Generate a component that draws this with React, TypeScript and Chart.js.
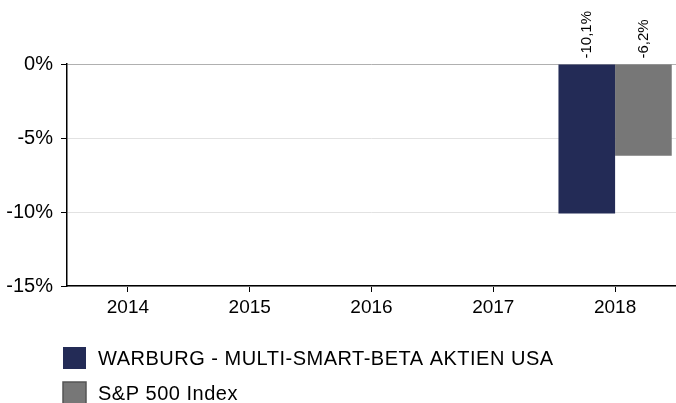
import React, { useEffect, useRef } from "react";
import { Chart, registerables } from "chart.js";

Chart.register(...registerables);

const categories = ["2014", "2015", "2016", "2017", "2018"];
const warburgValues = [null, null, null, null, -10.1];
const sp500Values = [null, null, null, null, -6.2];
const seriesNames = ["WARBURG - MULTI-SMART-BETA AKTIEN USA", "S&P 500 Index"];
const seriesColors = ["#232b56", "#777777"];
const yMin = -15;
const yMax = 0;
const yStep = 5;

const FONT = "'Liberation Sans', Arial, sans-serif";

const fmt = (v: number) => v.toFixed(1).replace(".", ",") + "%";

const labelPlugin = {
  id: "barLabels",
  afterDatasetsDraw(chart: any) {
    const ctx = chart.ctx;
    ctx.save();
    ctx.font = `15px ${FONT}`;
    ctx.fillStyle = "#000";
    ctx.textAlign = "left";
    ctx.textBaseline = "middle";
    chart.data.datasets.forEach((ds: any, di: number) => {
      const meta = chart.getDatasetMeta(di);
      meta.data.forEach((el: any, i: number) => {
        const v = ds.data[i];
        if (v === null || v === undefined) return;
        const top = Math.min(el.y, el.base);
        ctx.save();
        ctx.translate(el.x, top - 6);
        ctx.rotate(-Math.PI / 2);
        ctx.fillText(fmt(v), 0, 0);
        ctx.restore();
      });
    });
    ctx.restore();
  },
};

const legendPlugin = {
  id: "customLegend",
  afterDraw(chart: any) {
    const ctx = chart.ctx;
    ctx.save();
    const rows = [
      { y: 347, h: 22 },
      { y: 382, h: 22 },
    ];
    seriesNames.forEach((name, i) => {
      const r = rows[i];
      ctx.fillStyle = seriesColors[i];
      ctx.fillRect(63, r.y, 23, r.h);
      if (i === 1) {
        ctx.strokeStyle = "#555555";
        ctx.lineWidth = 1.5;
        ctx.strokeRect(63, r.y, 23, r.h);
      }
      ctx.fillStyle = "#000";
      ctx.font = `20px ${FONT}`;
      try {
        (ctx as any).letterSpacing = "0.5px";
      } catch (e) {}
      ctx.textAlign = "left";
      ctx.textBaseline = "middle";
      ctx.fillText(name, 98, r.y + r.h / 2 + 1);
    });
    ctx.restore();
  },
};

export default function App() {
  const ref = useRef<HTMLCanvasElement | null>(null);
  useEffect(() => {
    if (!ref.current) return;
    const chart = new Chart(ref.current, {
      type: "bar",
      data: {
        labels: categories,
        datasets: [
          {
            label: seriesNames[0],
            data: warburgValues,
            backgroundColor: seriesColors[0],
            borderWidth: 0,
          },
          {
            label: seriesNames[1],
            data: sp500Values,
            backgroundColor: seriesColors[1],
            borderWidth: 0,
          },
        ],
      },
      options: {
        responsive: false,
        maintainAspectRatio: false,
        animation: false,
        layout: { padding: { top: 64, right: 0, bottom: 77, left: 0 } },
        plugins: {
          legend: { display: false },
          tooltip: { enabled: false },
        },
        datasets: {
          bar: { categoryPercentage: 0.93, barPercentage: 1 },
        },
        scales: {
          x: {
            offset: true,
            grid: {
              offset: false,
              drawOnChartArea: false,
              drawTicks: true,
              tickLength: 6,
              tickColor: "#000",
            },
            border: { display: true, color: "#000", width: 1.5 },
            ticks: {
              color: "#000",
              font: { family: FONT, size: 19 },
              padding: 4,
              maxRotation: 0,
            },
            afterFit(scale: any) {
              scale.height = 40;
            },
          },
          y: {
            min: yMin,
            max: yMax,
            grid: {
              color: (c: any) => (c.tick && c.tick.value === 0 ? "#b0b0b0" : "#e2e2e2"),
              lineWidth: 1,
              drawTicks: true,
              tickLength: 6,
              tickColor: "#000",
            },
            border: { display: true, color: "#000", width: 1.5 },
            ticks: {
              stepSize: yStep,
              color: "#000",
              font: { family: FONT, size: 20 },
              padding: 8,
              callback: (v: any) => v + "%",
            },
            afterFit(scale: any) {
              scale.width = 67;
            },
          },
        },
      },
      plugins: [labelPlugin, legendPlugin],
    });
    return () => chart.destroy();
  }, []);
  return (
    <div style={{ position: "absolute", left: 0, top: 0, width: 676, height: 403, background: "#fff" }}>
      <canvas ref={ref} width={676} height={403} />
    </div>
  );
}
